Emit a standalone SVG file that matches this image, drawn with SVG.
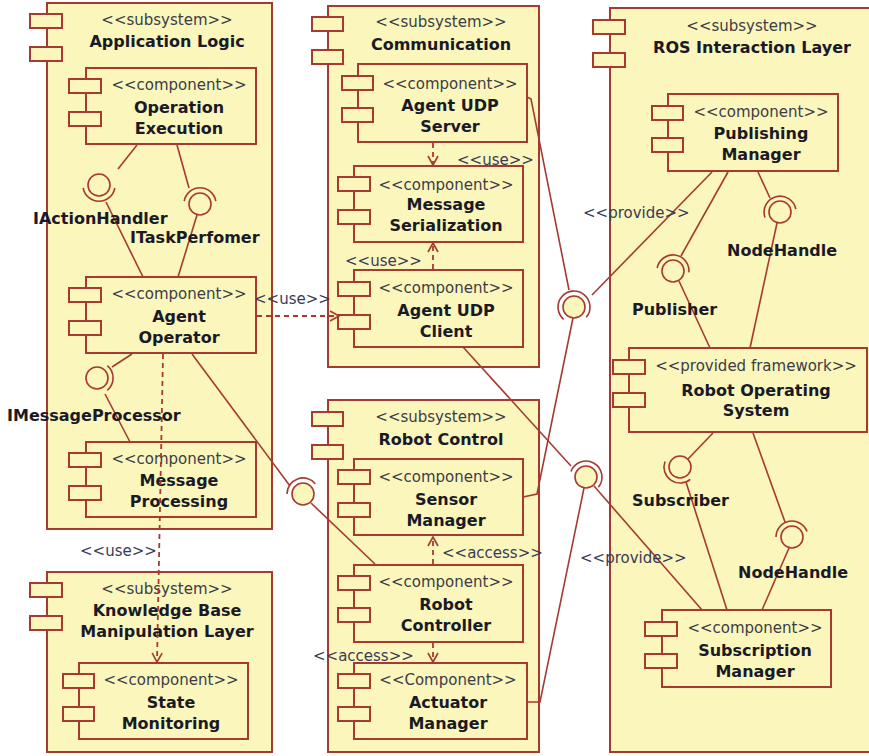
<svg xmlns="http://www.w3.org/2000/svg" width="869" height="756" viewBox="0 0 869 756">
  <style>
    .box { fill: #FAF6BC; stroke: #A63A30; stroke-width: 2; }
    .tab { fill: #FAF6BC; stroke: #A63A30; stroke-width: 2; }
    .st { font-family: "DejaVu Sans", Verdana, sans-serif; font-size: 15px; fill: #3C3C46; text-anchor: middle; }
    .nm { font-family: "DejaVu Sans", Verdana, sans-serif; font-size: 16px; font-weight: bold; fill: #1A1A26; text-anchor: middle; }
    .il { font-family: "DejaVu Sans", Verdana, sans-serif; font-size: 16px; font-weight: bold; fill: #1A1A26; }
    .dl { font-family: "DejaVu Sans", Verdana, sans-serif; font-size: 15px; fill: #3A3A58; }
    .ln { fill: none; stroke: #A63A30; stroke-width: 1.6; }
    .dash { fill: none; stroke: #A63A30; stroke-width: 1.8; stroke-dasharray: 5 4; }
    .ball { fill: #FAF6BC; stroke: #A63A30; stroke-width: 1.6; }
    .sock { fill: none; stroke: #A63A30; stroke-width: 1.6; }
  </style>
  <defs>
    <marker id="open" markerUnits="userSpaceOnUse" markerWidth="12" markerHeight="12" refX="10" refY="6" orient="auto">
      <path d="M1,1 L10,6 L1,11" fill="none" stroke="#A63A30" stroke-width="1.6"/>
    </marker>
  </defs>

  <rect width="869" height="756" fill="#FFFFFF"/>

  <!-- Subsystems -->
  <g id="applicationLogic">
    <rect class="box" x="47" y="3" width="225" height="526"/>
    <rect class="tab" x="30" y="14" width="32" height="14"/>
    <rect class="tab" x="30" y="47" width="32" height="14"/>
    <text class="st" x="167" y="25">&lt;&lt;subsystem&gt;&gt;</text>
    <text class="nm" x="167" y="47">Application Logic</text>
  </g>
  <g id="communication">
    <rect class="box" x="328" y="6" width="211" height="361"/>
    <rect class="tab" x="312" y="17" width="31" height="14"/>
    <rect class="tab" x="312" y="50" width="31" height="14"/>
    <text class="st" x="441" y="27">&lt;&lt;subsystem&gt;&gt;</text>
    <text class="nm" x="441" y="50">Communication</text>
  </g>
  <g id="robotControl">
    <rect class="box" x="328" y="400" width="211" height="352"/>
    <rect class="tab" x="312" y="412" width="31" height="14"/>
    <rect class="tab" x="312" y="445" width="31" height="14"/>
    <text class="st" x="441" y="422">&lt;&lt;subsystem&gt;&gt;</text>
    <text class="nm" x="441" y="445">Robot Control</text>
  </g>
  <g id="knowledgeBase">
    <rect class="box" x="47" y="572" width="225" height="180"/>
    <rect class="tab" x="30" y="583" width="32" height="14"/>
    <rect class="tab" x="30" y="616" width="32" height="14"/>
    <text class="st" x="167" y="594">&lt;&lt;subsystem&gt;&gt;</text>
    <text class="nm" x="167" y="616">Knowledge Base</text>
    <text class="nm" x="167" y="637">Manipulation Layer</text>
  </g>
  <g id="rosInteractionLayer">
    <rect class="box" x="610" y="8" width="280" height="744"/>
    <rect class="tab" x="593" y="20" width="32" height="14"/>
    <rect class="tab" x="593" y="53" width="32" height="14"/>
    <text class="st" x="752" y="31">&lt;&lt;subsystem&gt;&gt;</text>
    <text class="nm" x="752" y="53">ROS Interaction Layer</text>
  </g>

  <!-- Components -->
  <g id="operationExecution">
    <rect class="box" x="86" y="68" width="170" height="76"/>
    <rect class="tab" x="69" y="79" width="32" height="14"/>
    <rect class="tab" x="69" y="112" width="32" height="14"/>
    <text class="st" x="179" y="90">&lt;&lt;component&gt;&gt;</text>
    <text class="nm" x="179" y="113">Operation</text>
    <text class="nm" x="179" y="134">Execution</text>
  </g>
  <g id="agentOperator">
    <rect class="box" x="86" y="277" width="170" height="76"/>
    <rect class="tab" x="69" y="288" width="32" height="14"/>
    <rect class="tab" x="69" y="321" width="32" height="14"/>
    <text class="st" x="179" y="299">&lt;&lt;component&gt;&gt;</text>
    <text class="nm" x="179" y="322">Agent</text>
    <text class="nm" x="179" y="343">Operator</text>
  </g>
  <g id="messageProcessing">
    <rect class="box" x="86" y="442" width="170" height="75"/>
    <rect class="tab" x="69" y="453" width="32" height="14"/>
    <rect class="tab" x="69" y="486" width="32" height="14"/>
    <text class="st" x="179" y="464">&lt;&lt;component&gt;&gt;</text>
    <text class="nm" x="179" y="486">Message</text>
    <text class="nm" x="179" y="507">Processing</text>
  </g>
  <g id="agentUdpServer">
    <rect class="box" x="358" y="64" width="169" height="78"/>
    <rect class="tab" x="342" y="76" width="31" height="14"/>
    <rect class="tab" x="342" y="108" width="31" height="14"/>
    <text class="st" x="450" y="89">&lt;&lt;component&gt;&gt;</text>
    <text class="nm" x="450" y="111">Agent UDP</text>
    <text class="nm" x="450" y="132">Server</text>
  </g>
  <g id="messageSerialization">
    <rect class="box" x="354" y="166" width="169" height="76"/>
    <rect class="tab" x="338" y="177" width="32" height="14"/>
    <rect class="tab" x="338" y="210" width="32" height="14"/>
    <text class="st" x="446" y="190">&lt;&lt;component&gt;&gt;</text>
    <text class="nm" x="446" y="210">Message</text>
    <text class="nm" x="446" y="231">Serialization</text>
  </g>
  <g id="agentUdpClient">
    <rect class="box" x="354" y="270" width="169" height="77"/>
    <rect class="tab" x="338" y="282" width="32" height="14"/>
    <rect class="tab" x="338" y="315" width="32" height="14"/>
    <text class="st" x="446" y="293">&lt;&lt;component&gt;&gt;</text>
    <text class="nm" x="446" y="316">Agent UDP</text>
    <text class="nm" x="446" y="337">Client</text>
  </g>
  <g id="sensorManager">
    <rect class="box" x="354" y="459" width="169" height="76"/>
    <rect class="tab" x="338" y="470" width="32" height="14"/>
    <rect class="tab" x="338" y="503" width="32" height="14"/>
    <text class="st" x="446" y="482">&lt;&lt;component&gt;&gt;</text>
    <text class="nm" x="446" y="505">Sensor</text>
    <text class="nm" x="446" y="526">Manager</text>
  </g>
  <g id="robotController">
    <rect class="box" x="354" y="565" width="169" height="77"/>
    <rect class="tab" x="338" y="576" width="32" height="14"/>
    <rect class="tab" x="338" y="608" width="32" height="14"/>
    <text class="st" x="446" y="587">&lt;&lt;component&gt;&gt;</text>
    <text class="nm" x="446" y="610">Robot</text>
    <text class="nm" x="446" y="631">Controller</text>
  </g>
  <g id="actuatorManager">
    <rect class="box" x="354" y="663" width="173" height="76"/>
    <rect class="tab" x="338" y="674" width="32" height="14"/>
    <rect class="tab" x="338" y="707" width="32" height="14"/>
    <text class="st" x="448" y="685">&lt;&lt;Component&gt;&gt;</text>
    <text class="nm" x="448" y="708">Actuator</text>
    <text class="nm" x="448" y="729">Manager</text>
  </g>
  <g id="stateMonitoring">
    <rect class="box" x="79" y="663" width="169" height="76"/>
    <rect class="tab" x="63" y="674" width="31" height="14"/>
    <rect class="tab" x="63" y="707" width="31" height="14"/>
    <text class="st" x="171" y="685">&lt;&lt;component&gt;&gt;</text>
    <text class="nm" x="171" y="708">State</text>
    <text class="nm" x="171" y="729">Monitoring</text>
  </g>
  <g id="publishingManager">
    <rect class="box" x="668" y="94" width="170" height="77"/>
    <rect class="tab" x="652" y="106" width="31" height="14"/>
    <rect class="tab" x="652" y="138" width="31" height="14"/>
    <text class="st" x="761" y="117">&lt;&lt;component&gt;&gt;</text>
    <text class="nm" x="761" y="139">Publishing</text>
    <text class="nm" x="761" y="160">Manager</text>
  </g>
  <g id="robotOperatingSystem">
    <rect class="box" x="629" y="348" width="238" height="84"/>
    <rect class="tab" x="613" y="360" width="32" height="14"/>
    <rect class="tab" x="613" y="393" width="32" height="14"/>
    <text class="st" x="756" y="371">&lt;&lt;provided framework&gt;&gt;</text>
    <text class="nm" x="756" y="396">Robot Operating</text>
    <text class="nm" x="756" y="416">System</text>
  </g>
  <g id="subscriptionManager">
    <rect class="box" x="662" y="610" width="169" height="77"/>
    <rect class="tab" x="645" y="622" width="32" height="14"/>
    <rect class="tab" x="645" y="654" width="32" height="14"/>
    <text class="st" x="755" y="633">&lt;&lt;component&gt;&gt;</text>
    <text class="nm" x="755" y="656">Subscription</text>
    <text class="nm" x="755" y="677">Manager</text>
  </g>

  <!-- Connectors -->
  <g id="connectors">
    <!-- IActionHandler -->
    <line class="ln" x1="137" y1="145" x2="118" y2="169"/>
    <line class="ln" x1="106" y1="202" x2="143" y2="277"/>
    <circle class="ball" cx="99" cy="185" r="11"/>
    <path class="sock" d="M114.8,187.8 A16,16 0 0 1 83.2,187.8"/>
    <!-- ITaskPerfomer -->
    <line class="ln" x1="177" y1="145" x2="189" y2="188"/>
    <line class="ln" x1="197" y1="215" x2="178" y2="277"/>
    <circle class="ball" cx="200" cy="204" r="11"/>
    <path class="sock" d="M184.2,201.2 A16,16 0 0 1 215.8,201.2"/>
    <!-- IMessageProcessor -->
    <line class="ln" x1="132" y1="354" x2="112" y2="367"/>
    <line class="ln" x1="105" y1="394" x2="130" y2="442"/>
    <circle class="ball" cx="97" cy="378" r="11"/>
    <path class="sock" d="M107.3,365.7 A16,16 0 0 1 107.3,390.3"/>
    <!-- Agent Operator / Robot Controller -->
    <line class="ln" x1="192" y1="354" x2="290" y2="486"/>
    <line class="ln" x1="311" y1="503" x2="375" y2="564"/>
    <circle class="ball" cx="303" cy="494" r="11"/>
    <path class="sock" d="M287,494 A16,16 0 0 1 315.3,483.7"/>
    <!-- Agent UDP Server / Sensor Manager / Publishing Manager -->
    <polyline class="ln" points="527,97 531,99 569,290"/>
    <polyline class="ln" points="573,318 537,494 523,497"/>
    <line class="ln" x1="592" y1="295" x2="712" y2="172"/>
    <circle class="ball" cx="574" cy="307" r="11"/>
    <path class="sock" d="M563.7,319.3 A16,16 0 1 1 586.3,317.3"/>
    <!-- Agent UDP Client / Actuator Manager / Subscription Manager -->
    <line class="ln" x1="463" y1="347" x2="571" y2="466"/>
    <polyline class="ln" points="584,488 540,702 527,702"/>
    <line class="ln" x1="594" y1="486" x2="702" y2="610"/>
    <circle class="ball" cx="586" cy="477" r="11"/>
    <path class="sock" d="M571,471.5 A16,16 0 1 1 598.3,487.3"/>
    <!-- Publisher -->
    <line class="ln" x1="728" y1="172" x2="681" y2="256"/>
    <line class="ln" x1="679" y1="281" x2="710" y2="348"/>
    <circle class="ball" cx="673" cy="271" r="11"/>
    <path class="sock" d="M657.2,268.2 A16,16 0 0 1 688.9,272.4"/>
    <!-- NodeHandle (publishing) -->
    <line class="ln" x1="758" y1="172" x2="770" y2="198"/>
    <line class="ln" x1="777" y1="223" x2="750" y2="348"/>
    <circle class="ball" cx="780" cy="212" r="11"/>
    <path class="sock" d="M765,217.5 A16,16 0 1 1 795.8,209.2"/>
    <!-- Subscriber -->
    <line class="ln" x1="713" y1="433" x2="688" y2="459"/>
    <line class="ln" x1="686" y1="482" x2="727" y2="610"/>
    <circle class="ball" cx="680" cy="467" r="11"/>
    <path class="sock" d="M690.3,479.3 A16,16 0 0 1 665,461.5"/>
    <!-- NodeHandle (subscription) -->
    <line class="ln" x1="753" y1="433" x2="785" y2="522"/>
    <line class="ln" x1="789" y1="548" x2="762" y2="610"/>
    <circle class="ball" cx="792" cy="537" r="11"/>
    <path class="sock" d="M776,537 A16,16 0 0 1 807,531.5"/>

    <!-- Dependencies -->
    <line class="dash" x1="433" y1="143" x2="433" y2="165" marker-end="url(#open)"/>
    <line class="dash" x1="433" y1="269" x2="433" y2="243" marker-end="url(#open)"/>
    <line class="dash" x1="257" y1="316" x2="339" y2="316" marker-end="url(#open)"/>
    <line class="dash" x1="163" y1="354" x2="157" y2="662" marker-end="url(#open)"/>
    <line class="dash" x1="433" y1="564" x2="433" y2="537" marker-end="url(#open)"/>
    <line class="dash" x1="433" y1="643" x2="433" y2="662" marker-end="url(#open)"/>
  </g>

  <!-- Interface names -->
  <g id="interfaceLabels">
    <text class="il" x="33" y="224">IActionHandler</text>
    <text class="il" x="130" y="243">ITaskPerfomer</text>
    <text class="il" x="7" y="421">IMessageProcessor</text>
    <text class="il" x="727" y="256">NodeHandle</text>
    <text class="il" x="632" y="315">Publisher</text>
    <text class="il" x="632" y="506">Subscriber</text>
    <text class="il" x="738" y="578">NodeHandle</text>
  </g>

  <!-- Dependency stereotypes -->
  <g id="dependencyLabels">
    <text class="dl" x="457" y="165">&lt;&lt;use&gt;&gt;</text>
    <text class="dl" x="345" y="266">&lt;&lt;use&gt;&gt;</text>
    <text class="dl" x="254" y="304">&lt;&lt;use&gt;&gt;</text>
    <text class="dl" x="80" y="556">&lt;&lt;use&gt;&gt;</text>
    <text class="dl" x="442" y="558">&lt;&lt;access&gt;&gt;</text>
    <text class="dl" x="313" y="661">&lt;&lt;access&gt;&gt;</text>
    <text class="dl" x="583" y="218">&lt;&lt;provide&gt;&gt;</text>
    <text class="dl" x="580" y="563">&lt;&lt;provide&gt;&gt;</text>
  </g>
</svg>
